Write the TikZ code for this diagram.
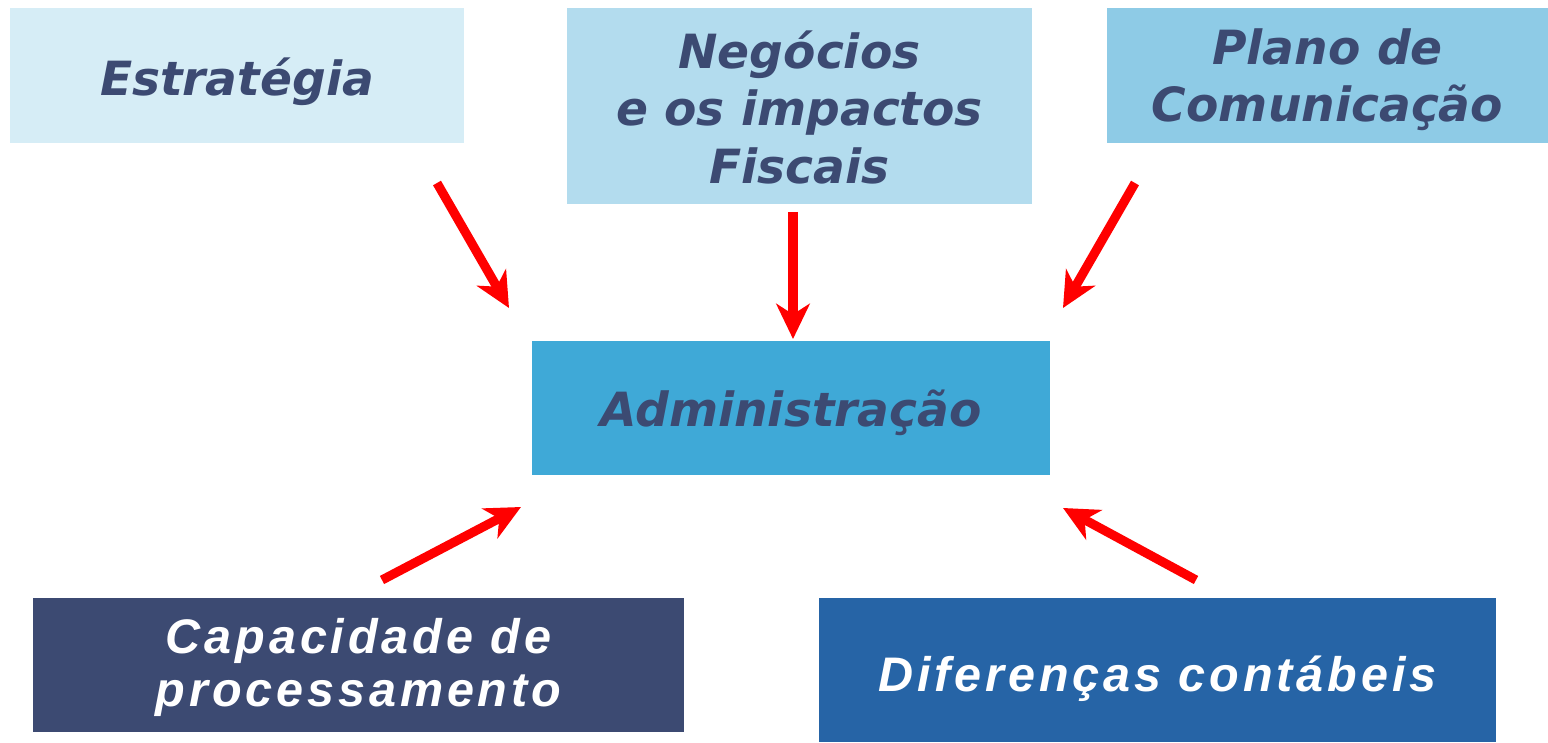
\documentclass[tikz,border=0pt]{standalone}
\usepackage{fontspec}
\setmainfont{DejaVu Sans}
\newfontfamily\lowfont[LetterSpace=8]{Liberation Sans}
\usetikzlibrary{positioning, arrows.meta}
\definecolor{txtdark}{HTML}{3C4A72}
\definecolor{boxa}{HTML}{D6EDF6}
\definecolor{boxb}{HTML}{B3DCEE}
\definecolor{boxc}{HTML}{8ECBE6}
\definecolor{boxd}{HTML}{3FA9D7}
\definecolor{boxe}{HTML}{3C4A72}
\definecolor{boxf}{HTML}{2664A6}
\tikzset{
  topbox/.style={inner sep=0pt, align=center, text=txtdark,
    font=\fontsize{13.4}{16.2}\selectfont\bfseries\itshape},
  lowbox/.style={inner sep=0pt, align=center, text=white,
    font=\fontsize{13.8}{15}\selectfont\lowfont\bfseries\itshape},
  % last baseline sits #1/2 below the box centre
  sink/.style={text height=#1, text depth=0pt},
  feed/.style={draw=red, line width=2.6pt,
    -{Stealth[length=10pt, width=9.5pt, inset=3pt]}}
}
\begin{document}
\begin{tikzpicture}[x=0.01cm, y=-0.01cm]
\useasboundingbox (0,0) rectangle (1548,743);
\node[topbox, sink=0.39cm, fill=boxa, minimum width=4.54cm, minimum height=1.35cm] (est) at (237,75.5) {Estratégia};
\node[topbox, sink=1.54cm, fill=boxb, minimum width=4.65cm, minimum height=1.96cm,
    font=\fontsize{13.4}{16.3}\selectfont\bfseries\itshape] (neg) at (799.5,106)
    {Negócios\\e os impactos\\Fiscais};
\node[topbox, sink=0.92cm, fill=boxc, minimum width=4.41cm, minimum height=1.35cm] (plan) at (1327.5,75.5)
    {Plano de\\Comunicação};
\node[topbox, sink=0.37cm, fill=boxd, minimum width=5.18cm, minimum height=1.34cm] (adm) at (791,408) {Administração};
\node[lowbox, sink=0.83cm, fill=boxe, minimum width=6.51cm, minimum height=1.34cm] (cap) at (358.5,665)
    {Capacidade de\\processamento};
\node[lowbox, sink=0.42cm, fill=boxf, minimum width=6.77cm, minimum height=1.44cm] (dif) at (1157.5,670)
    {Diferenças contábeis};
% free ends of the arrows
\coordinate (e1) at (437,183);
\coordinate (e2) at (793,212);
\coordinate (e3) at (1135,183);
\coordinate (e4) at (382,580);
\coordinate (e5) at (1196,580);
\coordinate (h1) at (509,308);
\coordinate (h2) at (793,339);
\coordinate (h3) at (1063,308);
\coordinate (h4) at (521,507);
\coordinate (h5) at (1063,508);
\draw[feed] (e1) -- (h1);
\draw[feed] (e2) -- (h2);
\draw[feed] (e3) -- (h3);
\draw[feed] (e4) -- (h4);
\draw[feed] (e5) -- (h5);
\end{tikzpicture}
\end{document}
